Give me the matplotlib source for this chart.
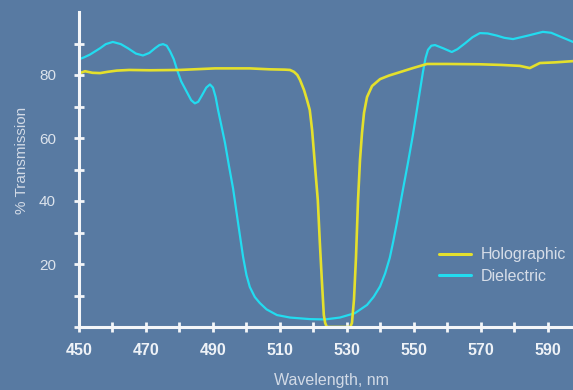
import matplotlib
matplotlib.use("Agg")
import matplotlib.pyplot as plt

plt.rcParams['font.family'] = ['Liberation Sans', 'DejaVu Sans']

# Holographic notch filter transmission (%), wavelength in nm
holo_nm = [450.0, 451.8, 454.0, 456.3, 458.5, 461.3, 465.0, 471.2, 480.0, 490.6,
           501.0, 507.0, 511.5, 513.0, 514.2, 515.2, 516.0, 517.2, 518.1, 518.9,
           519.6, 520.1, 520.7, 521.3, 521.9, 522.5, 523.1, 523.5, 524.0, 531.0,
           531.5, 532.1, 532.7, 533.3, 533.9, 534.5, 535.1, 536.0, 537.5, 539.9,
           542.5, 544.9, 549.7, 553.9, 560.0, 569.7, 576.0, 581.6, 584.6, 587.6,
           592.0, 597.5]
holo_pct = [80.5, 81.2, 80.7, 80.6, 81.0, 81.4, 81.6, 81.5, 81.6, 82.1,
            82.1, 81.8, 81.7, 81.6, 81.0, 80.0, 78.4, 75.2, 72.0, 68.9,
            62.5, 56.0, 48.0, 40.3, 27.0, 15.0, 3.8, 1.3, 0.0, 0.0,
            1.3, 8.6, 22.0, 40.0, 53.0, 61.6, 68.0, 73.0, 76.5, 78.7,
            79.8, 80.6, 82.2, 83.5, 83.5, 83.4, 83.2, 82.9, 82.2, 83.8,
            84.0, 84.4]

# Dielectric filter transmission (%), wavelength in nm
diel_nm = [450.0, 451.5, 453.3, 456.3, 458.0, 460.1, 462.5, 464.6, 467.0, 469.1,
           471.0, 472.7, 474.0, 475.1, 476.2, 477.2, 478.3, 479.3, 480.5, 481.5,
           482.5, 483.5, 484.6, 485.6, 486.7, 488.0, 489.1, 490.0, 490.8, 491.5,
           492.5, 493.6, 494.8, 496.0, 497.5, 499.0, 500.0, 501.0, 502.5, 504.0,
           506.0, 509.1, 513.0, 519.0, 523.4, 527.9, 532.4, 536.0, 538.0, 539.9,
           541.4, 542.8, 543.8, 544.9, 546.7, 548.2, 549.7, 551.2, 552.7, 553.5,
           554.2, 555.2, 556.3, 557.5, 558.7, 561.3, 563.0, 565.2, 567.5, 569.7,
           572.0, 574.8, 577.0, 579.6, 584.0, 588.5, 591.0, 593.0, 595.5, 597.5]
diel_pct = [85.0, 85.6, 86.5, 88.5, 89.8, 90.5, 89.8, 88.5, 86.8, 86.2,
            87.0, 88.5, 89.5, 89.8, 89.3, 87.5, 85.0, 81.6, 78.0, 76.0,
            74.0, 72.0, 71.0, 71.5, 73.5, 76.0, 77.0, 76.0, 73.0, 69.0,
            64.0, 58.4, 51.0, 44.0, 33.0, 22.2, 16.5, 12.7, 9.5, 7.6,
            5.6, 3.8, 3.0, 2.5, 2.4, 3.0, 4.4, 7.0, 9.6, 12.9,
            17.0, 22.0, 27.0, 33.0, 43.5, 52.0, 61.0, 71.0, 81.0, 85.5,
            88.0, 89.3, 89.5, 89.0, 88.5, 87.3, 88.2, 90.0, 92.0, 93.3,
            93.2, 92.5, 91.8, 91.4, 92.5, 93.7, 93.4, 92.5, 91.4, 90.5]

x_ticks = list(range(450, 600, 10))
x_labels = ['450', '', '470', '', '490', '', '510', '', '530', '', '550', '', '570', '', '590']
y_ticks = list(range(0, 100, 10))
y_labels = ['', '', '20', '', '40', '', '60', '', '80', '']

bg = '#587aa2'
holo_color = '#e4e02c'
diel_color = '#22dcf0'
axis_color = '#f4f6f9'

W, H = 573, 390
fig = plt.figure(figsize=(W / 100, H / 100), dpi=100, facecolor=bg)
ax = fig.add_axes([79 / W, (H - 327) / H, 1 - 79 / W, (327 - 12) / H])
ax.set_facecolor(bg)

ax.plot(holo_nm, holo_pct, color=holo_color, lw=1.9, label='Holographic', zorder=3,
        solid_joinstyle='round', solid_capstyle='round')
ax.plot(diel_nm, diel_pct, color=diel_color, lw=1.6, label='Dielectric', zorder=2,
        solid_joinstyle='round', solid_capstyle='round')

ax.set_xlim(450, 597.5)
ax.set_ylim(0, 100)

for s in ['top', 'right']:
    ax.spines[s].set_visible(False)
for s in ['left', 'bottom']:
    ax.spines[s].set_color(axis_color)
    ax.spines[s].set_linewidth(2.2)
    ax.spines[s].set_zorder(5)

ax.set_xticks(x_ticks)
ax.set_xticklabels(x_labels, fontsize=11.5, fontweight='bold', color='#eef2f7')
ax.set_yticks(y_ticks)
ax.set_yticklabels(y_labels, fontsize=11, color='#dce3ec')
ax.tick_params(axis='both', direction='inout', length=7, width=2.0, color=axis_color)
ax.tick_params(axis='x', pad=8)
ax.tick_params(axis='y', pad=13)

fig.text(22 / W, (H - 160) / H, '% Transmission', rotation=90, ha='center', va='center',
         fontsize=11, color='#d2dae6')
fig.text(331 / W, (H - 381) / H, 'Wavelength, nm', ha='center', va='center',
         fontsize=11.5, color='#d2dae6')

leg = ax.legend(loc='center left', bbox_to_anchor=(439 / W, (H - 265.5) / H),
                bbox_transform=fig.transFigure, frameon=False, fontsize=11.5,
                handlelength=2.0, handletextpad=0.6, labelspacing=0.4, borderpad=0,
                borderaxespad=0)
for t in leg.get_texts():
    t.set_color('#d6dde8')
for h in leg.get_lines():
    h.set_linewidth(2.2)

fig.savefig('out.png', dpi=100, facecolor=bg)
